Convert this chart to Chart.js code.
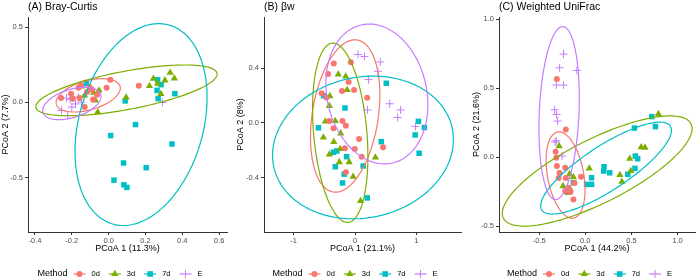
<!DOCTYPE html>
<html>
<head>
<meta charset="utf-8">
<script src="https://cdn.jsdelivr.net/npm/chart.js@4.4.1/dist/chart.umd.min.js"></script>
<style>
  body { margin: 0; background: #fff; }
  #wrap { position: relative; width: 700px; height: 280px; }
  canvas { position: absolute; top: 0; }
</style>
</head>
<body>
<div id="wrap">
  <canvas id="panelA" width="232" height="280" style="left:0px"></canvas>
  <canvas id="panelB" width="234" height="280" style="left:232px"></canvas>
  <canvas id="panelC" width="234" height="280" style="left:466px"></canvas>
</div>
<script>
// groups
const methods = ["0d", "3d", "7d", "E"];

// (A) Bray-Curtis, [PCoA1, PCoA2]
const bray0d = [[0.009,0.151],[-0.011,0.098],[0.164,0.111],[-0.258,0.029],[-0.204,0.058],[-0.195,0.025],[-0.158,0.029],[-0.164,0.098],[-0.150,0.113],[-0.117,0.069],[-0.092,0.085],[-0.063,0.051],[-0.104,0.102],[-0.130,-0.031],[-0.085,0.020]];
const bray3d = [[-0.148,0.107],[-0.094,0.085],[-0.072,0.013],[-0.131,0.047],[-0.052,0.080],[-0.059,-0.065],[0.095,0.033],[0.243,0.158],[0.266,0.125],[0.306,0.147],[0.334,0.197],[0.357,0.160],[0.222,0.110],[0.284,0.057],[-0.081,0.065]];
const bray7d = [[-0.121,0.125],[0.090,0.010],[0.266,0.150],[0.285,0.118],[0.263,0.080],[0.269,0.025],[0.360,0.058],[0.146,-0.147],[0.011,-0.220],[0.344,-0.276],[0.081,-0.402],[0.204,-0.433],[0.029,-0.516],[0.083,-0.547],[0.099,-0.564]];
const brayE = [[-0.229,0.029],[-0.200,-0.031],[-0.256,-0.053],[-0.222,-0.087],[-0.165,0.035],[-0.148,0.002],[-0.210,0.020],[-0.180,-0.010],[0.292,0.000]];
// ellipses: centre x, y, first semi-axis dx, dy, second semi-axis dx, dy
const brayEllipses = [[-0.111,0.047,0.173,0.060,0.022,-0.093],[0.097,0.080,0.492,0.113,0.019,-0.125],[0.176,-0.147,0.154,0.660,0.324,-0.115],[-0.200,-0.007,0.157,0.060,0.022,-0.089]];
const brayXTicks = [-0.4, -0.2, 0, 0.2, 0.4, 0.6];
const brayXLabels = ["-0.4", "-0.2", "0.0", "0.2", "0.4", "0.6"];
const brayYTicks = [-0.5, 0, 0.5];
const brayYLabels = ["-0.5", "0.0", "0.5"];

// (B) βw
const beta0d = [[-0.347,0.433],[-0.069,0.441],[-0.440,0.356],[-0.105,0.298],[-0.016,0.240],[-0.213,0.233],[0.197,0.184],[-0.544,0.216],[-0.468,0.185],[-0.419,0.015],[-0.205,0.015],[-0.150,-0.020],[-0.350,-0.039],[0.065,-0.116],[-0.166,-0.184],[-0.005,-0.189],[0.108,-0.245],[0.456,-0.177],[-0.150,-0.359]];
const beta3d = [[-0.274,0.353],[-0.153,0.338],[-0.129,0.240],[-0.411,0.196],[-0.419,0.124],[-0.484,0.011],[-0.323,0.015],[-0.516,-0.105],[-0.347,-0.138],[-0.234,-0.075],[-0.419,-0.229],[-0.242,-0.189],[-0.258,-0.284],[-0.097,-0.284],[-0.032,-0.391],[0.331,-0.251],[0.089,-0.567]];
const beta7d = [[0.508,0.289],[-0.513,0.198],[-0.165,0.109],[-0.597,-0.035],[1.032,0.012],[1.129,-0.033],[0.979,-0.087],[0.427,-0.136],[-0.352,-0.213],[-0.298,-0.204],[-0.137,-0.245],[1.044,-0.220],[0.132,-0.313],[-0.323,-0.318],[-0.177,-0.372],[-0.205,-0.436],[0.198,-0.545]];
const betaE = [[0.048,0.498],[0.153,0.484],[0.411,0.444],[0.371,0.376],[0.218,0.316],[0.202,0.095],[0.565,0.140],[0.742,0.095],[0.694,0.040],[0.984,-0.025]];
const betaEllipses = [[-0.161,0.051,0.194,0.553,0.531,-0.038],[-0.242,-0.071,-0.129,0.652,0.432,0.017],[0.129,-0.178,1.468,0.102,0.129,-0.509],[0.355,0.211,-0.258,0.502,0.790,0.083]];
const betaXTicks = [-1, 0, 1];
const betaXLabels = ["-1", "0", "1"];
const betaYTicks = [-0.4, 0, 0.4];
const betaYLabels = ["-0.4", "0.0", "0.4"];

// (C) Weighted UniFrac
const wuf0d = [[-0.308,0.565],[-0.211,0.199],[-0.322,0.038],[-0.314,-0.005],[-0.308,-0.065],[-0.218,-0.078],[-0.279,-0.116],[-0.289,-0.152],[-0.211,-0.152],[-0.046,-0.143],[-0.182,-0.222],[-0.218,-0.246],[-0.161,-0.254],[-0.129,-0.308],[-0.118,-0.188]];
const wuf3d = [[-0.284,0.080],[0.043,-0.083],[-0.171,-0.123],[-0.241,-0.210],[-0.161,-0.236],[-0.188,-0.259],[0.375,-0.130],[0.397,-0.178],[0.482,-0.011],[0.493,-0.101],[0.606,0.072],[0.648,0.069],[0.793,0.312],[-0.129,-0.145]];
const wuf7d = [[0.014,-0.198],[0.068,-0.150],[0.068,-0.198],[0.204,-0.070],[0.200,-0.101],[0.265,-0.114],[0.543,0.007],[0.568,-0.012],[0.539,-0.082],[0.461,-0.125],[-0.129,-0.186],[0.721,0.293],[0.533,0.210],[0.761,0.221]];
const wufE = [[-0.236,0.746],[-0.279,0.647],[-0.091,0.628],[-0.314,0.522],[-0.236,0.522],[-0.332,0.343],[-0.311,0.309],[-0.300,0.261],[-0.327,0.109],[-0.315,0.118],[-0.252,0.007]];
const wufEllipses = [[-0.214,-0.130,-0.086,0.312,0.193,0.024],[0.129,-0.101,1.018,0.341,0.152,-0.208],[0.225,-0.080,0.697,0.304,0.131,-0.136],[-0.284,0.319,0.041,0.627,0.215,-0.0065]];
const wufXTicks = [-0.5, 0, 0.5, 1.0];
const wufXLabels = ["-0.5", "0.0", "0.5", "1.0"];
const wufYTicks = [-0.5, 0, 0.5, 1.0];
const wufYLabels = ["-0.5", "0.0", "0.5", "1.0"];

// styling
const colors = ["#F8766D", "#7CAE00", "#00BFC4", "#C77CFF"];
const shapes = ["circle", "triangle", "rect", "cross"];
const radii = [3, 4.2, 3.9, 4];
const FONT = "'Liberation Sans', Arial, sans-serif";

function drawKey(ctx, i, x, y) {
    ctx.save();
    ctx.strokeStyle = colors[i];
    ctx.fillStyle = colors[i];
    ctx.lineWidth = 1.2;
    ctx.beginPath();
    ctx.moveTo(x - 6, y);
    ctx.lineTo(x + 6, y);
    ctx.stroke();
    ctx.beginPath();
    if (i === 0) {
        ctx.arc(x, y, 3, 0, Math.PI * 2);
        ctx.fill();
    } else if (i === 1) {
        ctx.moveTo(x, y - 4.2);
        ctx.lineTo(x + 3.6, y + 2.1);
        ctx.lineTo(x - 3.6, y + 2.1);
        ctx.closePath();
        ctx.fill();
    } else if (i === 2) {
        ctx.fillRect(x - 2.8, y - 2.8, 5.6, 5.6);
    } else {
        ctx.lineWidth = 1;
        ctx.moveTo(x, y - 4);
        ctx.lineTo(x, y + 4);
        ctx.stroke();
    }
    ctx.restore();
}

function makePanel(id, cfg) {
    const datasets = cfg.series.map((pts, i) => ({
        label: methods[i],
        data: pts.map(p => ({ x: p[0], y: p[1] })),
        pointStyle: shapes[i],
        pointRadius: radii[i],
        backgroundColor: colors[i],
        borderColor: colors[i],
        borderWidth: i === 3 ? 1 : 0
    }));

    const extras = {
        id: "extras_" + id,
        afterDatasetsDraw(chart) {
            const { ctx, scales: { x, y } } = chart;
            cfg.ellipses.forEach((e, i) => {
                const [cx, cy, ax, ay, bx, by] = e;
                ctx.save();
                ctx.strokeStyle = colors[i];
                ctx.lineWidth = 1.2;
                ctx.beginPath();
                for (let k = 0; k <= 160; k++) {
                    const t = k / 160 * Math.PI * 2;
                    const px = x.getPixelForValue(cx + Math.cos(t) * ax + Math.sin(t) * bx);
                    const py = y.getPixelForValue(cy + Math.cos(t) * ay + Math.sin(t) * by);
                    if (k === 0) ctx.moveTo(px, py); else ctx.lineTo(px, py);
                }
                ctx.closePath();
                ctx.stroke();
                ctx.restore();
            });
        },
        afterDraw(chart) {
            const { ctx, chartArea } = chart;
            ctx.save();
            // panel title
            ctx.fillStyle = "#000";
            ctx.font = "10.5px " + FONT;
            ctx.textBaseline = "middle";
            ctx.textAlign = "left";
            ctx.fillText(cfg.title, chartArea.left, 7);

            // legend
            const ly = 274;
            ctx.font = "9px " + FONT;
            const titleW = ctx.measureText("Method").width;
            ctx.font = "7.5px " + FONT;
            const labelW = methods.map(m => ctx.measureText(m).width);
            const total = titleW + methods.length * 24 + labelW.reduce((a, b) => a + b, 0) + 3 * 8;
            let lx = (chartArea.left + chartArea.right) / 2 - total / 2;
            ctx.font = "9px " + FONT;
            ctx.fillStyle = "#000";
            ctx.fillText("Method", lx, ly);
            lx += titleW + 5;
            methods.forEach((m, i) => {
                drawKey(ctx, i, lx + 7, ly);
                lx += 19;
                ctx.font = "7.5px " + FONT;
                ctx.fillStyle = "#000";
                ctx.fillText(m, lx, ly);
                lx += labelW[i] + 8;
            });
            ctx.restore();
        }
    };

    const tickFont = { family: FONT, size: 7.5 };
    const titleFont = { family: FONT, size: 9 };

    return new Chart(document.getElementById(id), {
        type: "scatter",
        data: { datasets },
        options: {
            responsive: false,
            animation: false,
            layout: { padding: { left: cfg.padLeft, right: cfg.padRight, top: 17, bottom: 25.6 } },
            plugins: { legend: { display: false }, tooltip: { enabled: false } },
            scales: {
                x: {
                    type: "linear",
                    min: cfg.xRange[0], max: cfg.xRange[1],
                    afterBuildTicks: s => { s.ticks = cfg.xTicks.map(v => ({ value: v })); },
                    afterFit: s => { s.height = 22.4; },
                    ticks: {
                        font: tickFont, color: "#4D4D4D", padding: 1, maxRotation: 0,
                        callback: (v, idx) => cfg.xLabels[idx]
                    },
                    grid: { drawOnChartArea: false, tickLength: 3, color: "#333" },
                    border: { color: "#333", width: 1 },
                    title: { display: true, text: cfg.xTitle, font: titleFont, color: "#000", padding: 0 }
                },
                y: {
                    type: "linear",
                    min: cfg.yRange[0], max: cfg.yRange[1],
                    afterBuildTicks: s => { s.ticks = cfg.yTicks.map(v => ({ value: v })); },
                    afterFit: s => { s.width = cfg.yWidth; },
                    ticks: {
                        font: tickFont, color: "#4D4D4D", padding: 2,
                        callback: (v, idx) => cfg.yLabels[idx]
                    },
                    grid: { drawOnChartArea: false, tickLength: 3, color: "#333" },
                    border: { color: "#333", width: 1 },
                    title: { display: true, text: cfg.yTitle, font: titleFont, color: "#000", padding: 0 }
                }
            }
        },
        plugins: [extras]
    });
}

makePanel("panelA", {
    title: "(A) Bray-Curtis",
    series: [bray0d, bray3d, bray7d, brayE],
    ellipses: brayEllipses,
    xRange: [-0.438, 0.643], yRange: [-0.86, 0.567],
    xTicks: brayXTicks, xLabels: brayXLabels,
    yTicks: brayYTicks, yLabels: brayYLabels,
    xTitle: "PCoA 1 (11.3%)", yTitle: "PCoA 2 (7.7%)",
    padLeft: 0, padRight: 4, yWidth: 28
});

makePanel("panelB", {
    title: "(B) βw",
    series: [beta0d, beta3d, beta7d, betaE],
    ellipses: betaEllipses,
    xRange: [-1.484, 1.726], yRange: [-0.793, 0.771],
    xTicks: betaXTicks, xLabels: betaXLabels,
    yTicks: betaYTicks, yLabels: betaYLabels,
    xTitle: "PCoA 1 (21.1%)", yTitle: "PCoA 2 (8%)",
    padLeft: 3.6, padRight: 3, yWidth: 28.4
});

makePanel("panelC", {
    title: "(C) Weighted UniFrac",
    series: [wuf0d, wuf3d, wuf7d, wufE],
    ellipses: wufEllipses,
    xRange: [-0.936, 1.19], yRange: [-0.543, 1.015],
    xTicks: wufXTicks, xLabels: wufXLabels,
    yTicks: wufYTicks, yLabels: wufYLabels,
    xTitle: "PCoA 1 (44.2%)", yTitle: "PCoA 2 (21.6%)",
    padLeft: 5.6, padRight: 2, yWidth: 27.4
});
</script>
</body>
</html>
